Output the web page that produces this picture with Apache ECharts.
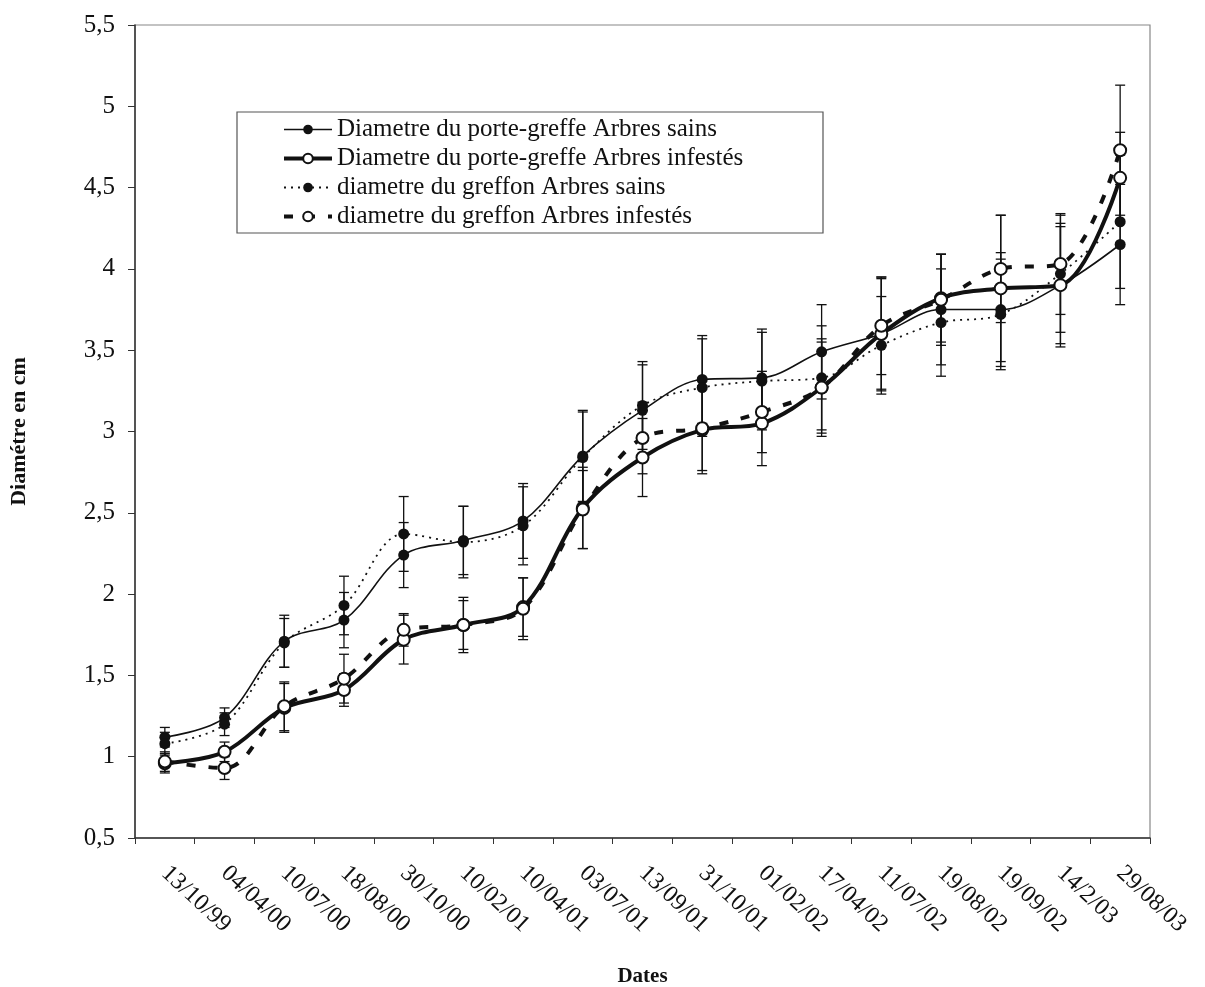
<!DOCTYPE html>
<html>
<head>
<meta charset="utf-8">
<script src="https://cdn.jsdelivr.net/npm/echarts@6/dist/echarts.min.js"></script>
<style>
  html, body { margin: 0; padding: 0; background: #fff; }
  #chart { width: 1205px; height: 987px; }
</style>
</head>
<body>
<div id="chart"></div>
<script>
// Sampling dates
const dates = ['13/10/99', '04/04/00', '10/07/00', '18/08/00', '30/10/00', '10/02/01', '10/04/01',
  '03/07/01', '13/09/01', '31/10/01', '01/02/02', '17/04/02', '11/07/02', '19/08/02',
  '19/09/02', '14/2/03', '29/08/03'];

// Mean diameters (cm)
const porteGreffeSains = [1.12, 1.24, 1.71, 1.84, 2.24, 2.33, 2.45, 2.85, 3.13, 3.32, 3.33, 3.49, 3.60, 3.75, 3.75, 3.90, 4.15];
const porteGreffeInfestes = [0.96, 1.03, 1.30, 1.41, 1.72, 1.81, 1.92, 2.53, 2.84, 3.01, 3.05, 3.27, 3.60, 3.82, 3.88, 3.90, 4.56];
const greffonSains = [1.08, 1.20, 1.70, 1.93, 2.37, 2.32, 2.42, 2.84, 3.16, 3.27, 3.31, 3.33, 3.53, 3.67, 3.72, 3.97, 4.29];
const greffonInfestes = [0.97, 0.93, 1.31, 1.48, 1.78, 1.81, 1.91, 2.52, 2.96, 3.02, 3.12, 3.27, 3.65, 3.81, 4.00, 4.03, 4.73];

// Standard deviations (cm)
const errPorteGreffeSains = [0.06, 0.06, 0.16, 0.17, 0.20, 0.21, 0.23, 0.28, 0.28, 0.27, 0.30, 0.29, 0.35, 0.34, 0.35, 0.36, 0.37];
const errPorteGreffeInfestes = [0.06, 0.06, 0.15, 0.10, 0.15, 0.17, 0.18, 0.25, 0.24, 0.27, 0.26, 0.30, 0.34, 0.27, 0.45, 0.38, 0.28];
const errGreffonSains = [0.07, 0.07, 0.15, 0.18, 0.23, 0.22, 0.24, 0.28, 0.27, 0.30, 0.30, 0.32, 0.30, 0.33, 0.34, 0.36, 0.41];
const errGreffonInfestes = [0.06, 0.07, 0.15, 0.15, 0.10, 0.15, 0.19, 0.24, 0.22, 0.26, 0.25, 0.28, 0.30, 0.28, 0.33, 0.31, 0.40];

const yTicks = { min: 0.5, max: 5.5, interval: 0.5 };

const FONT = '"Liberation Serif", "Times New Roman", serif';

const chart = echarts.init(document.getElementById('chart'), null, { renderer: 'canvas' });

// Vertical error bar with caps at mean ± sd
function errorSeries(values, errs) {
  return {
    type: 'custom',
    silent: true,
    z: 1,
    data: values.map((v, i) => [i, v - errs[i], v + errs[i]]),
    encode: { x: 0, y: [1, 2] },
    renderItem: function (params, api) {
      const x = api.value(0);
      const lo = api.coord([x, api.value(1)]);
      const hi = api.coord([x, api.value(2)]);
      const half = 5;
      const style = { stroke: '#111', lineWidth: 1.3 };
      return {
        type: 'group',
        children: [
          { type: 'line', shape: { x1: lo[0], y1: lo[1], x2: hi[0], y2: hi[1] }, style: style },
          { type: 'line', shape: { x1: lo[0] - half, y1: lo[1], x2: lo[0] + half, y2: lo[1] }, style: style },
          { type: 'line', shape: { x1: hi[0] - half, y1: hi[1], x2: hi[0] + half, y2: hi[1] }, style: style }
        ]
      };
    }
  };
}

function lineSeries(name, values, opts) {
  return {
    name: name,
    type: 'line',
    data: values,
    smooth: 0.35,
    z: 3,
    symbol: 'circle',
    symbolSize: opts.open ? 12 : 11,
    showAllSymbol: true,
    lineStyle: { color: '#111', width: opts.width, type: opts.type },
    itemStyle: {
      color: opts.open ? '#fff' : '#111',
      borderColor: '#111',
      borderWidth: opts.open ? 2 : 0
    },
    emphasis: { disabled: true }
  };
}

const names = [
  'Diametre du porte-greffe Arbres sains',
  'Diametre du porte-greffe Arbres infestés',
  'diametre du greffon Arbres sains',
  'diametre du greffon Arbres infestés'
];

const styles = [
  { width: 1.6, type: 'solid', open: false },
  { width: 4, type: 'solid', open: true },
  { width: 1.8, type: [2, 5], open: false },
  { width: 4, type: [9, 13], open: true }
];

const option = {
  backgroundColor: '#fff',
  animation: false,
  grid: {
    left: 135, right: 55, top: 25, bottom: 149,
    outerBoundsMode: 'none',
    containLabel: false,
    show: true, borderColor: '#888', borderWidth: 1.2, backgroundColor: 'transparent'
  },
  legend: {
    data: names.map((n, i) => ({
      name: n,
      lineStyle: { width: styles[i].width, type: styles[i].type, color: '#111' }
    })),
    orient: 'vertical',
    left: 237,
    top: 112,
    padding: [5, 14, 4, 45],
    itemGap: 4,
    itemWidth: 48,
    itemHeight: 12,
    borderColor: '#555',
    borderWidth: 1.2,
    backgroundColor: '#fff',
    selectedMode: false,
    textStyle: { fontFamily: FONT, fontSize: 25, color: '#111', lineHeight: 24, width: 472 }
  },
  xAxis: {
    type: 'category',
    data: dates,
    boundaryGap: true,
    name: 'Dates',
    nameLocation: 'middle',
    nameGap: 128,
    nameTextStyle: { fontFamily: FONT, fontSize: 21, fontWeight: 'bold', color: '#111' },
    axisLine: { lineStyle: { color: '#333', width: 1.5 } },
    axisTick: { show: true, length: 6, inside: false, alignWithLabel: false, lineStyle: { color: '#333' } },
    axisLabel: { rotate: -43, margin: 32, fontFamily: FONT, fontSize: 24, color: '#111', interval: 0 },
    splitLine: { show: false }
  },
  yAxis: {
    type: 'value',
    min: yTicks.min,
    max: yTicks.max,
    interval: yTicks.interval,
    name: 'Diamétre en cm',
    nameLocation: 'middle',
    nameGap: 105,
    nameTextStyle: { fontFamily: FONT, fontSize: 22, fontWeight: 'bold', color: '#111' },
    axisLine: { show: true, lineStyle: { color: '#333', width: 1.5 } },
    axisTick: { show: true, length: 7, lineStyle: { color: '#333' } },
    axisLabel: {
      margin: 20, fontFamily: FONT, fontSize: 25, color: '#111',
      formatter: v => String(v).replace('.', ',')
    },
    splitLine: { show: false }
  },
  series: [
    errorSeries(porteGreffeSains, errPorteGreffeSains),
    errorSeries(porteGreffeInfestes, errPorteGreffeInfestes),
    errorSeries(greffonSains, errGreffonSains),
    errorSeries(greffonInfestes, errGreffonInfestes),
    lineSeries(names[0], porteGreffeSains, styles[0]),
    lineSeries(names[1], porteGreffeInfestes, styles[1]),
    lineSeries(names[2], greffonSains, styles[2]),
    lineSeries(names[3], greffonInfestes, styles[3])
  ]
};

chart.setOption(option);
</script>
</body>
</html>
